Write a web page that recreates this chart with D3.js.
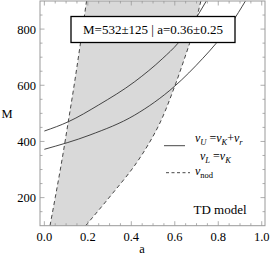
<!DOCTYPE html>
<html>
<head>
<meta charset="utf-8">
<script src="https://cdn.jsdelivr.net/npm/d3@7"></script>
<style>
  body { margin: 0; background: #fff; }
  svg text { font-family: "Liberation Serif", "DejaVu Serif", serif; fill: #000; }
</style>
</head>
<body>
<div id="view"></div>
<script>
// tick labels
const aTicks = [0.0, 0.2, 0.4, 0.6, 0.8, 1.0];
const mTicks = [200, 400, 600, 800];

// nu_U = nu_K + nu_r (upper solid)
const upperA = [0, 0.11, 0.25, 0.416, 0.545, 0.614, 0.68, 0.745];
const upperM = [437, 470, 530, 613, 696, 749, 818, 900];

// nu_L = nu_K (lower solid)
const lowerA = [0, 0.21, 0.416, 0.6, 0.729, 0.79, 0.86, 0.925];
const lowerM = [372, 423, 494, 597, 696, 749, 820, 900];

// nu_nod boundaries (dashed)
const nodLeftA = [0.026, 0.05, 0.078, 0.11, 0.135, 0.168, 0.194];
const nodLeftM = [100, 200, 320, 470, 590, 760, 900];
const nodRightA = [0.19, 0.30, 0.416, 0.515, 0.6, 0.645, 0.668, 0.72];
const nodRightM = [100, 202, 315, 440, 597, 696, 749, 900];

const boxText = "M=532\u00b1125 | a=0.36\u00b10.25";

const width = 270, height = 265;
const pLeft = 40, pRight = 265, pTop = 1, pBottom = 225.7;

const svg = d3.select("#view").append("svg")
    .attr("width", width)
    .attr("height", height);

const x = d3.scaleLinear().domain([-0.02, 1.015]).range([pLeft, pRight]);
const y = d3.scaleLinear().domain([100, 900]).range([pBottom, pTop]);

svg.append("clipPath").attr("id", "plot")
  .append("rect")
    .attr("x", pLeft).attr("y", pTop)
    .attr("width", pRight - pLeft).attr("height", pBottom - pTop);

const g = svg.append("g").attr("clip-path", "url(#plot)");

const pts = (as, ms) => as.map((a, i) => [a, ms[i]]);

const leftPts = pts(nodLeftA, nodLeftM);
const rightPts = pts(nodRightA, nodRightM);
const lineY = d3.line().x(d => x(d[0])).y(d => y(d[1])).curve(d3.curveMonotoneY);
const lineX = d3.line().x(d => x(d[0])).y(d => y(d[1])).curve(d3.curveMonotoneX);

// shaded region between the nodal curves
const regionD = lineY(leftPts) + lineY(rightPts.slice().reverse()).replace(/^M/, "L") + "Z";
g.append("path")
    .attr("d", regionD)
    .attr("fill", "#d9d9d9");

[leftPts, rightPts].forEach(p => {
  g.append("path")
      .attr("d", lineY(p))
      .attr("fill", "none").attr("stroke", "#333").attr("stroke-width", 0.9)
      .attr("stroke-dasharray", "4,3");
});

[pts(upperA, upperM), pts(lowerA, lowerM)].forEach(p => {
  g.append("path")
      .attr("d", lineX(p))
      .attr("fill", "none").attr("stroke", "#333").attr("stroke-width", 0.9);
});

// frame
svg.append("rect")
    .attr("x", pLeft).attr("y", pTop)
    .attr("width", pRight - pLeft).attr("height", pBottom - pTop)
    .attr("fill", "none").attr("stroke", "#999").attr("stroke-width", 1);

// ticks on all sides
const xMinor = d3.range(0, 1.001, 0.05);
const yMinor = d3.range(150, 900, 50);
const tickG = svg.append("g").attr("stroke", "#999").attr("stroke-width", 0.8);
xMinor.forEach(v => {
  const major = aTicks.some(t => Math.abs(t - v) < 1e-6);
  const len = major ? 4.5 : 2.5;
  tickG.append("line").attr("x1", x(v)).attr("x2", x(v)).attr("y1", pBottom).attr("y2", pBottom - len);
  tickG.append("line").attr("x1", x(v)).attr("x2", x(v)).attr("y1", pTop).attr("y2", pTop + len);
});
yMinor.forEach(v => {
  const major = mTicks.includes(v);
  const len = major ? 4.5 : 2.5;
  tickG.append("line").attr("x1", pLeft).attr("x2", pLeft + len).attr("y1", y(v)).attr("y2", y(v));
  tickG.append("line").attr("x1", pRight).attr("x2", pRight - len).attr("y1", y(v)).attr("y2", y(v));
});

// tick labels
svg.selectAll(".xl").data(aTicks).join("text")
    .attr("class", "xl")
    .attr("x", d => x(d)).attr("y", 241)
    .attr("text-anchor", "middle").attr("font-size", 12.5)
    .text(d => d.toFixed(1));
svg.selectAll(".yl").data(mTicks).join("text")
    .attr("class", "yl")
    .attr("x", 36).attr("y", d => y(d) + 4.5)
    .attr("text-anchor", "end").attr("font-size", 12.5)
    .text(d => d);

// axis titles
svg.append("text").attr("x", 7).attr("y", 117.5).attr("text-anchor", "middle")
    .attr("font-size", 12.5).text("M");
svg.append("text").attr("x", 142).attr("y", 253).attr("text-anchor", "middle")
    .attr("font-size", 12.5).text("a");

// result box
svg.append("rect").attr("x", 71).attr("y", 16.5).attr("width", 164).attr("height", 26)
    .attr("fill", "#fff").attr("stroke", "#000").attr("stroke-width", 1.3);
svg.append("text").attr("x", 153).attr("y", 34).attr("text-anchor", "middle")
    .attr("font-size", 13).text(boxText);

// legend
const leg = svg.append("g");
leg.append("line").attr("x1", 164).attr("x2", 185).attr("y1", 145.7).attr("y2", 145.7)
    .attr("stroke", "#333").attr("stroke-width", 0.9);
leg.append("line").attr("x1", 166).attr("x2", 190).attr("y1", 172.7).attr("y2", 172.7)
    .attr("stroke", "#333").attr("stroke-width", 0.9).attr("stroke-dasharray", "3,2.5");

const nuText = (xx, yy, parts) => {
  const t = leg.append("text").attr("x", xx).attr("y", yy).attr("font-size", 12);
  parts.forEach(p => {
    const s = t.append("tspan").text(p.t);
    if (p.i) s.attr("font-style", "italic");
    if (p.sub) s.attr("font-size", 8.5).attr("dy", 2.5);
    if (p.up) s.attr("dy", -2.5);
  });
};
nuText(195, 142, [{t: "\u03bd", i: 1}, {t: "U", i: 1, sub: 1}, {t: " =", up: 1}, {t: "\u03bd", i: 1},
  {t: "K", i: 1, sub: 1}, {t: "+", up: 1}, {t: "\u03bd", i: 1}, {t: "r", i: 1, sub: 1}]);
nuText(200, 160, [{t: "\u03bd", i: 1}, {t: "L", i: 1, sub: 1}, {t: " =", up: 1}, {t: "\u03bd", i: 1},
  {t: "K", i: 1, sub: 1}]);
nuText(195, 175, [{t: "\u03bd", i: 1}, {t: "nod", sub: 1}]);

svg.append("text").attr("x", 220).attr("y", 214).attr("text-anchor", "middle")
    .attr("font-size", 13).text("TD model");
</script>
</body>
</html>
